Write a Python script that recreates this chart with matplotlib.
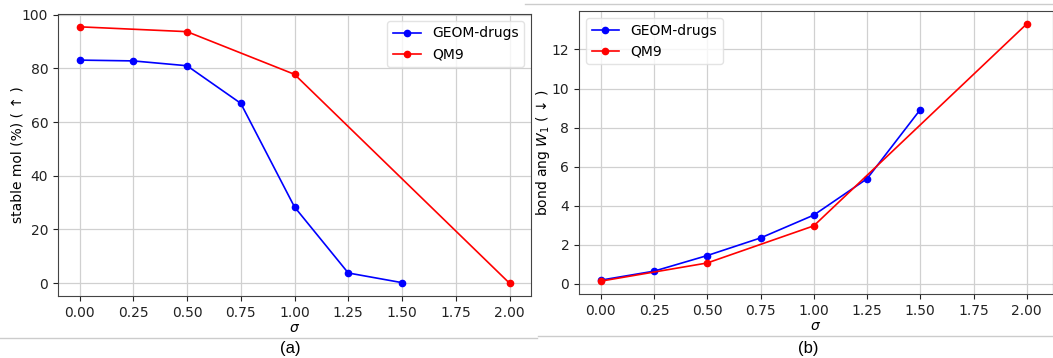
import matplotlib.pyplot as plt
from matplotlib.lines import Line2D

# data
sigma_geom = [0.0, 0.25, 0.5, 0.75, 1.0, 1.25, 1.5]
sigma_qm9 = [0.0, 0.5, 1.0, 2.0]

stable_geom = [83.1, 82.8, 81.0, 67.0, 28.4, 3.8, 0.2]
stable_qm9 = [95.5, 93.7, 77.8, 0.0]

bondang_geom = [0.19, 0.65, 1.45, 2.35, 3.52, 5.38, 8.92]
bondang_qm9 = [0.14, 1.07, 2.97, 13.31]

xticks = [0.0, 0.25, 0.5, 0.75, 1.0, 1.25, 1.5, 1.75, 2.0]

W, H = 1053, 358
fig = plt.figure(figsize=(W / 100, H / 100), dpi=100)
fig.patch.set_facecolor('white')


def fx(px):
    return px / W


def fy(py):
    return 1 - py / H


ax1 = fig.add_axes([fx(58), fy(296), fx(531 - 58), (296 - 14) / H])
ax2 = fig.add_axes([fx(579), fy(294), fx(1053 - 579), (294 - 11) / H])

for ax in (ax1, ax2):
    ax.grid(True, color='#d0d0d0', linewidth=0.9)
    ax.set_axisbelow(True)
    ax.set_xticks(xticks)
    ax.set_xticklabels([f'{t:.2f}' for t in xticks])
    ax.tick_params(labelsize=10, colors='#222222')
    ax.set_xlabel(r'$\sigma$', fontsize=10, labelpad=1)
    for s in ax.spines.values():
        s.set_color('#444444')

ax1.plot(sigma_geom, stable_geom, '-o', color='blue', markersize=4.5, linewidth=1.2, label='GEOM-drugs')
ax1.plot(sigma_qm9, stable_qm9, '-o', color='red', markersize=4.5, linewidth=1.2, label='QM9')
ax1.set_xlim(-0.1, 2.1)
ax1.set_ylabel('stable mol (%) ( ↑ )', fontsize=10, labelpad=-2)
ax1.legend(loc='upper right', fontsize=10, framealpha=0.8, edgecolor='#dddddd')

ax2.plot(sigma_geom, bondang_geom, '-o', color='blue', markersize=4.5, linewidth=1.2, label='GEOM-drugs')
ax2.plot(sigma_qm9, bondang_qm9, '-o', color='red', markersize=4.5, linewidth=1.2, label='QM9')
ax2.set_xlim(-0.102, 2.123)
ax2.set_ylabel(r'bond ang $W_1$ ( ↓ )', fontsize=10, labelpad=0)
ax2.legend(loc='upper left', fontsize=10, framealpha=0.8, edgecolor='#dddddd')

# separator lines between figure and caption
fig.add_artist(Line2D([fx(0), fx(537)], [fy(338), fy(338)], color='#cccccc', linewidth=1))
fig.add_artist(Line2D([fx(538), fx(1053)], [fy(336), fy(336)], color='#cccccc', linewidth=1))
fig.add_artist(Line2D([fx(525), fx(1053)], [fy(4), fy(4)], color='#cccccc', linewidth=1))

fig.text(fx(290), fy(349), '(a)', ha='center', va='center', fontsize=12, family='Liberation Sans')
fig.text(fx(808), fy(348), '(b)', ha='center', va='center', fontsize=12, family='Liberation Sans')

fig.savefig('out.png', dpi=100)
